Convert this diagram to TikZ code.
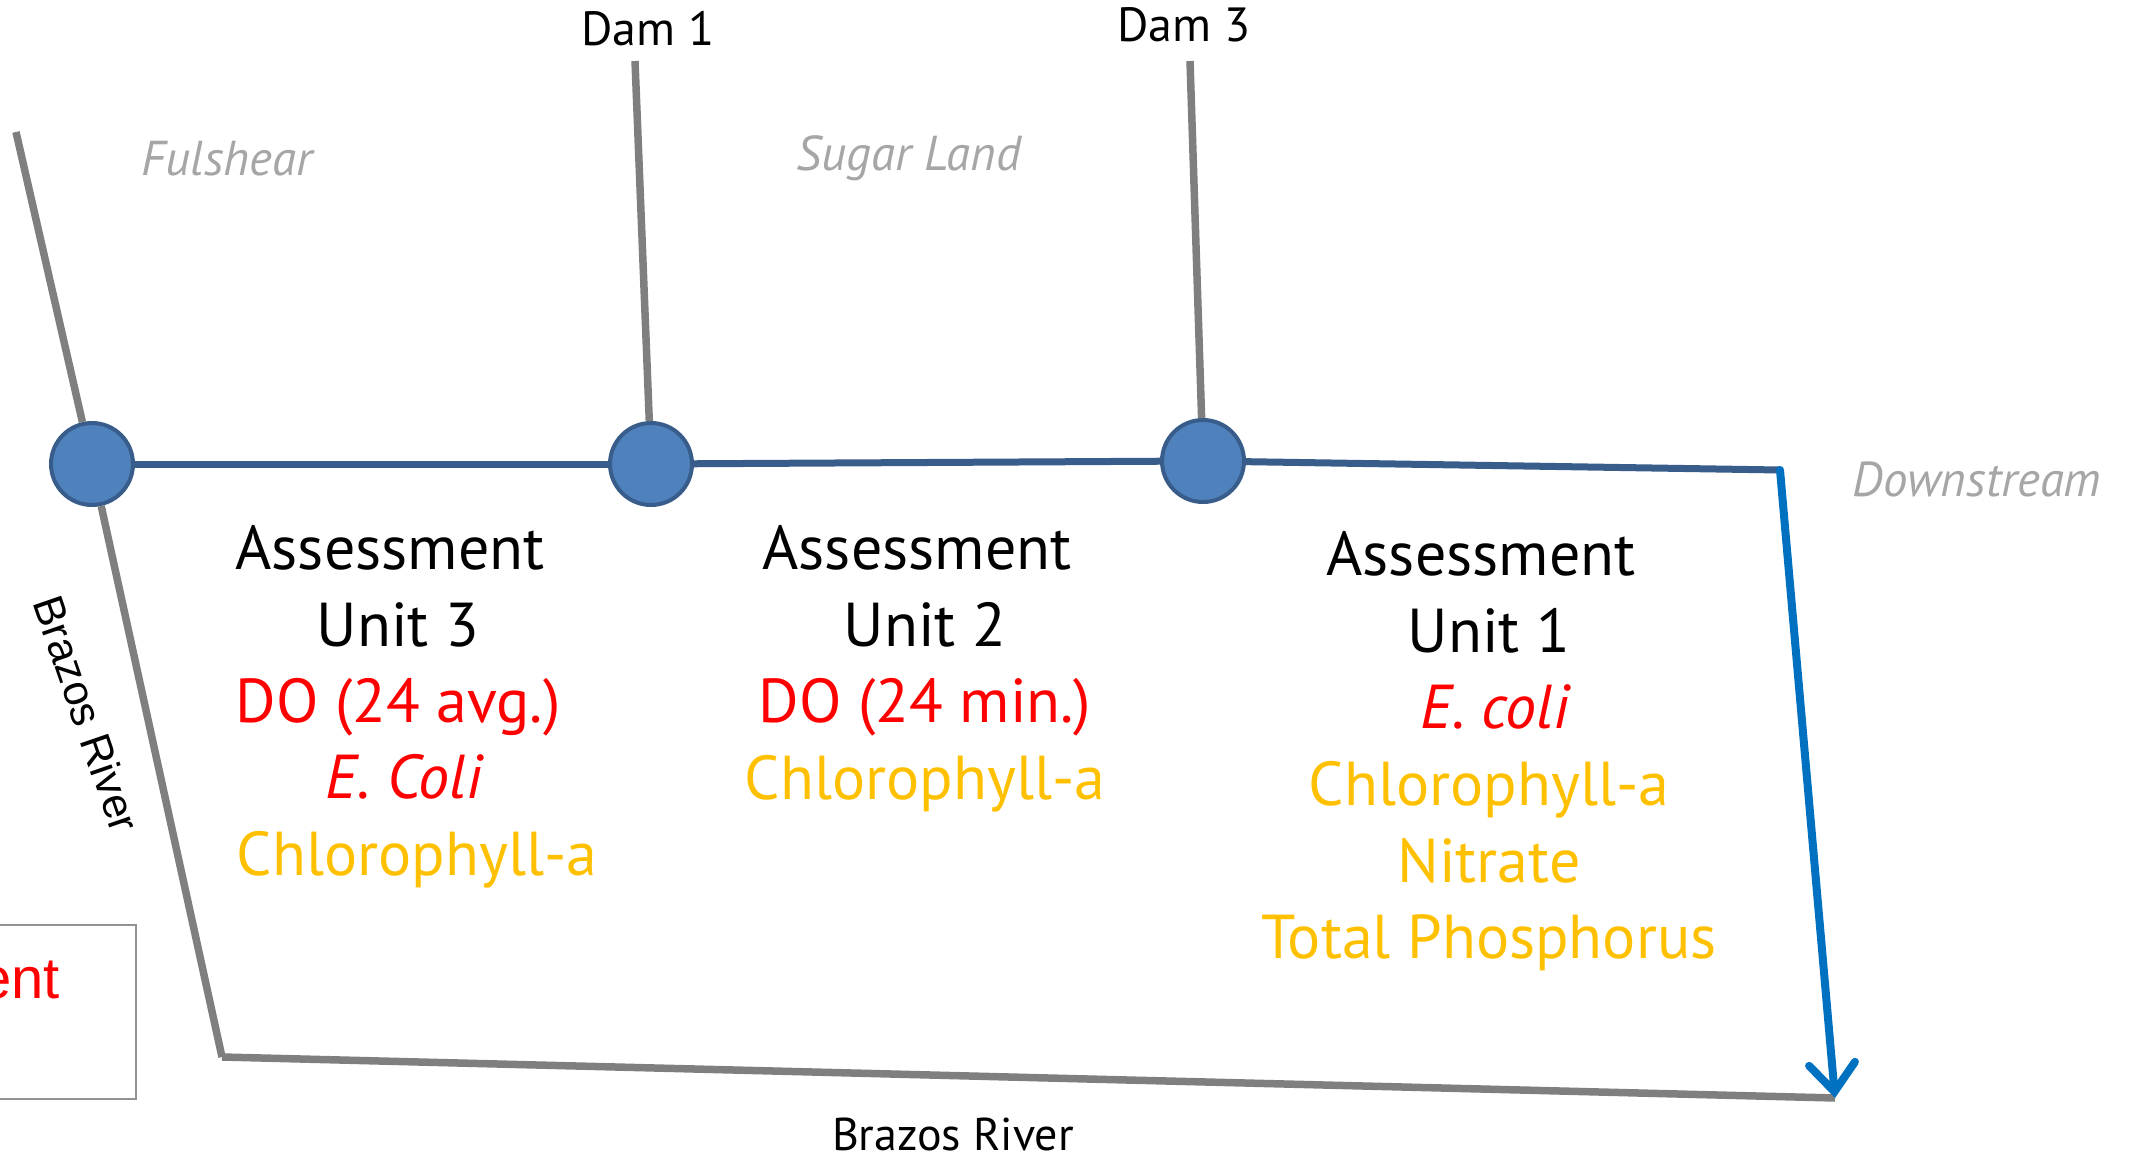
\documentclass[tikz,border=0pt]{standalone}
\usepackage{fontspec}
\setmainfont{PT Sans}
\newfontfamily\af{Liberation Sans}
\usetikzlibrary{arrows.meta}
\definecolor{cred}{HTML}{FF0000}
\definecolor{cgold}{HTML}{FFC000}
\definecolor{lgray}{HTML}{A6A6A6}
\definecolor{lngray}{HTML}{7F7F7F}
\definecolor{cfill}{HTML}{4F81BD}
\definecolor{cdark}{HTML}{385D8A}
\definecolor{carrow}{HTML}{0070C0}
\begin{document}
\begin{tikzpicture}[x=1pt,y=-1pt,
  txt/.style={anchor=base, inner sep=0pt, font=\fontsize{62}{74}\selectfont},
  lbl/.style={anchor=base, inner sep=0pt, font=\fontsize{48}{57}\selectfont},
  glbl/.style={anchor=base, inner sep=0pt, text=lgray, font=\fontsize{49}{58}\selectfont\itshape},
  station/.style={circle, fill=cfill, draw=cdark, line width=4pt, minimum size=82pt, inner sep=0pt},
  grayline/.style={draw=lngray, line width=7.5pt},
  blueline/.style={draw=cdark, line width=7pt},
]
\useasboundingbox (0,0) rectangle (2131,1155);
\begin{scope}
\clip (0,0) rectangle (2131,1155);
\node[draw=lngray!85, line width=2pt, minimum width=170pt, minimum height=174pt, inner sep=0pt] (box) at (51,1012) {};
\node[anchor=base east, inner sep=0pt, text=cred, font=\af\fontsize{58}{68}\selectfont] (boxtxt) at (60,998) {ent};
\end{scope}

% stations
\node[station] (c1) at (92,464) {};
\node[station] (c2) at (651,464) {};
\node[station] (c3) at (1203,461) {};
\coordinate (lt) at (16,132);
\coordinate (lb) at (222,1057);
\coordinate (d1) at (635,61);
\coordinate (d3) at (1190,61);
\coordinate (e) at (1780,470);
\coordinate (b) at (1835,1098);

\draw[grayline] (lt) -- (c1);
\draw[grayline] (c1) -- (lb);
\draw[grayline] (lb) -- (b);
\draw[grayline] (d1) -- (c2);
\draw[grayline] (d3) -- (c3);
\draw[blueline] (c1) -- (c2);
\draw[blueline] (c2) -- (c3);
\draw[blueline] (c3) -- (e);
\draw[draw=carrow, line width=8pt, line cap=round, -{Straight Barb[length=28pt, width=46pt, line cap=round]}] (e) -- (b);

% labels
\node[lbl] (dam1) at (648,46) {Dam 1};
\node[lbl] (dam3) at (1184,42) {Dam 3};
\node[glbl] (ful) at (227,176) {Fulshear};
\node[glbl] (sug) at (909,171) {Sugar Land};
\node[glbl] (down) at (1977,496) {Downstream};
\node[lbl, font=\fontsize{46}{55}\selectfont] (brb) at (953,1150) {Brazos River};
\node[inner sep=0pt, rotate=-71, font=\af\fontsize{43}{50}\selectfont] (brl) at (87,714) {Brazos River};

% Unit 3
\node[txt] (a3) at (390,569) {Assessment};
\node[txt] (u3) at (398,646) {Unit 3};
\node[txt, text=cred] (do3) at (398,722) {DO (24 avg.)};
\node[txt, text=cred, font=\fontsize{62}{74}\selectfont\itshape] (ec3) at (404,798) {E. Coli};
\node[txt, text=cgold] (ch3) at (417,875) {Chlorophyll-a};
% Unit 2
\node[txt] (a2) at (917,569) {Assessment};
\node[txt] (u2) at (925,646) {Unit 2};
\node[txt, text=cred] (do2) at (925,722) {DO (24 min.)};
\node[txt, text=cgold] (ch2) at (925,799) {Chlorophyll-a};
% Unit 1
\node[txt] (a1) at (1481,575) {Assessment};
\node[txt] (u1) at (1489,652) {Unit 1};
\node[txt, text=cred, font=\fontsize{62}{74}\selectfont\itshape] (ec1) at (1495,728) {E. coli};
\node[txt, text=cgold] (ch1) at (1489,805) {Chlorophyll-a};
\node[txt, text=cgold] (ni1) at (1489,882) {Nitrate};
\node[txt, text=cgold] (tp1) at (1489,958) {Total Phosphorus};
\end{tikzpicture}
\end{document}
